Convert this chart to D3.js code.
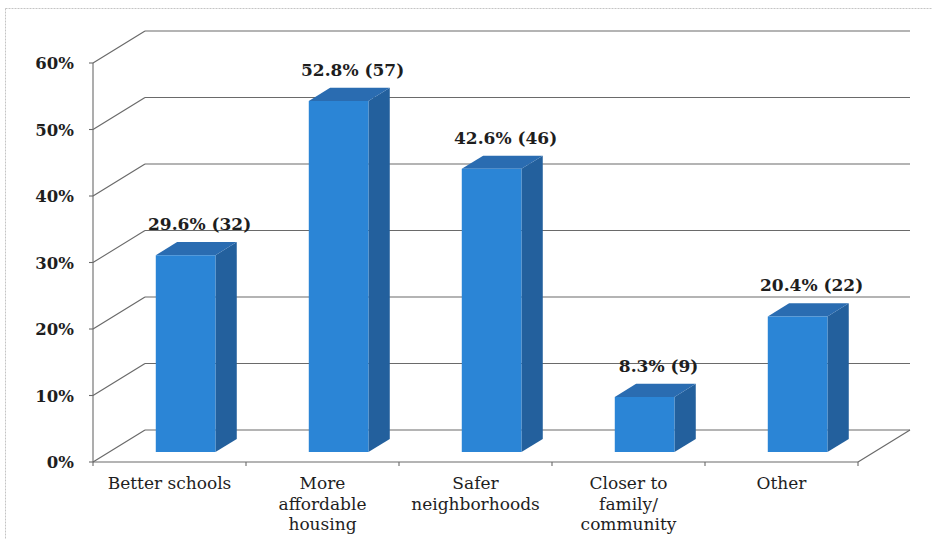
<!DOCTYPE html>
<html>
<head>
<meta charset="utf-8">
<script src="https://cdn.jsdelivr.net/npm/d3@7/dist/d3.min.js"></script>
<style>
  html, body { margin: 0; padding: 0; background: #fff; }
  svg { display: block; }
</style>
</head>
<body>
<svg id="chart" width="932" height="539"></svg>
<script>
// Reasons for moving: share of respondents (count in parentheses)
const categories = [
  ["Better schools"],
  ["More", "affordable", "housing"],
  ["Safer", "neighborhoods"],
  ["Closer to", "family/", "community"],
  ["Other"]
];
const percentValues = [29.6, 52.8, 42.6, 8.3, 20.4];
const countValues = [32, 57, 46, 9, 22];
const yTicks = [0, 10, 20, 30, 40, 50, 60];

(function () {
  const svg = d3.select("#chart");
  const W = 932, H = 539;

  // plot frame (front plane)
  const plotL = 93, plotR = 858, plotB = 462, plotT = 63;
  // full depth of the 3-D box
  const DX = 52, DY = -32;
  // bars occupy this slice of the depth
  const z0 = 0.31, z1 = 0.72;

  const y = d3.scaleLinear().domain([0, 60]).range([plotB, plotT]);
  const x = d3.scaleBand().domain(d3.range(categories.length)).range([plotL, plotR]).padding(0);
  const barW = x.bandwidth() * 0.39;

  const P = (px, py, z) => [px + DX * z, py + DY * z];

  // outer border
  svg.append("rect")
    .attr("x", 5.5).attr("y", 8.5).attr("width", W).attr("height", H)
    .attr("fill", "none").attr("stroke", "#c4c4c4").attr("stroke-width", 1)
    .attr("stroke-dasharray", "2,1");

  const grid = svg.append("g").attr("stroke", "#6a6a6a").attr("stroke-width", 1.1).attr("fill", "none");

  // back wall gridlines and side wall diagonals
  yTicks.forEach(t => {
    const yy = y(t);
    const a = P(plotL, yy, 1);
    grid.append("line")
      .attr("x1", a[0]).attr("y1", a[1])
      .attr("x2", plotR + DX).attr("y2", yy + DY);
    grid.append("line")
      .attr("x1", plotL).attr("y1", yy)
      .attr("x2", a[0]).attr("y2", a[1]);
    // small tick on the value axis
    grid.append("line")
      .attr("x1", plotL - 4).attr("y1", yy)
      .attr("x2", plotL).attr("y2", yy);
  });

  // floor: front edge and right edge
  grid.append("line").attr("x1", plotL).attr("y1", plotB).attr("x2", plotR).attr("y2", plotB);
  grid.append("line").attr("x1", plotR).attr("y1", plotB).attr("x2", plotR + DX).attr("y2", plotB + DY);
  // value axis line
  grid.append("line").attr("x1", plotL).attr("y1", plotT).attr("x2", plotL).attr("y2", plotB);
  // category ticks
  d3.range(categories.length + 1).forEach(i => {
    const xx = plotL + i * x.bandwidth();
    grid.append("line").attr("x1", xx).attr("y1", plotB).attr("x2", xx).attr("y2", plotB + 4);
  });

  // y tick labels
  svg.append("g")
    .selectAll("text")
    .data(yTicks)
    .join("text")
    .attr("x", 74)
    .attr("y", d => y(d) + 6)
    .attr("text-anchor", "end")
    .attr("font-family", "'DejaVu Serif', serif")
    .attr("font-weight", "bold")
    .attr("font-size", 16.5)
    .attr("fill", "#1e1e1e")
    .text(d => d + "%");

  // 3-D bars
  const colFront = "#2b85d6", colSide = "#23609d", colTop = "#2a6cb1";
  const bars = svg.append("g");
  percentValues.forEach((v, i) => {
    const cx = x(i) + x.bandwidth() / 2;
    const xl = cx - barW / 2, xr = cx + barW / 2;
    const yb = y(0), yt = y(v);
    const fl = P(xl, yt, z0), fr = P(xr, yt, z0);
    const frb = P(xr, yb, z0), flb = P(xl, yb, z0);
    const bl = P(xl, yt, z1), br = P(xr, yt, z1), brb = P(xr, yb, z1);
    const g = bars.append("g");
    // side face
    g.append("path")
      .attr("d", d3.line()([fr, br, brb, frb]) + "Z")
      .attr("fill", colSide);
    // top face
    g.append("path")
      .attr("d", d3.line()([fl, bl, br, fr]) + "Z")
      .attr("fill", colTop);
    // front face
    g.append("path")
      .attr("d", d3.line()([fl, fr, frb, flb]) + "Z")
      .attr("fill", colFront);
    // value label above the bar
    svg.append("text")
      .attr("x", fl[0] + barW / 2 + 14)
      .attr("y", bl[1] - 12)
      .attr("text-anchor", "middle")
      .attr("font-family", "'DejaVu Serif', serif")
      .attr("font-weight", "bold")
      .attr("font-size", 17)
      .attr("fill", "#1e1e1e")
      .text(v.toFixed(1) + "% (" + countValues[i] + ")");
  });

  // category labels
  const catG = svg.append("g");
  categories.forEach((lines, i) => {
    const t = catG.append("text")
      .attr("x", x(i) + x.bandwidth() / 2)
      .attr("y", 489)
      .attr("text-anchor", "middle")
      .attr("font-family", "'DejaVu Serif', serif")
      .attr("font-size", 17)
      .attr("fill", "#1e1e1e");
    lines.forEach((ln, k) => {
      t.append("tspan")
        .attr("x", x(i) + x.bandwidth() / 2)
        .attr("dy", k === 0 ? 0 : 20.5)
        .text(ln);
    });
  });
})();
</script>
</body>
</html>
